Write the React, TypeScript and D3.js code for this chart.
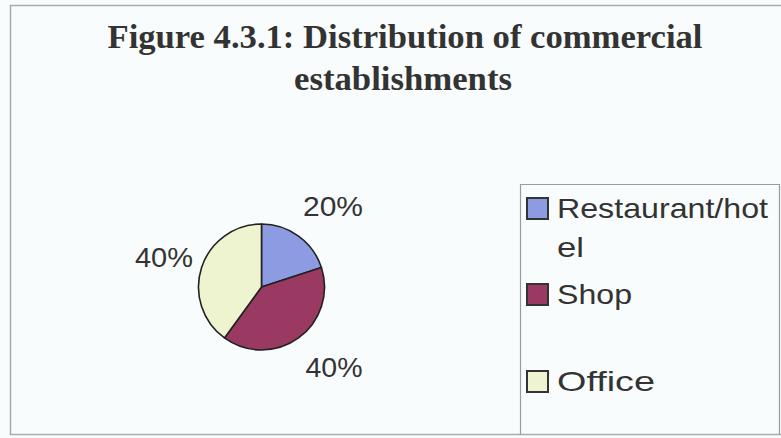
import React from "react";
import * as d3 from "d3";

const categories = ["Restaurant/hotel", "Shop", "Office"];
const values = [20, 40, 40];
const colors = ["#8d9be3", "#9a3a63", "#eef4cf"];
const legendLines = [["Restaurant/hot", "el"], ["Shop"], ["Office"]];
const titleLines = ["Figure 4.3.1: Distribution of commercial", "establishments"];

const W = 781;
const H = 438;

export default function App() {
  const cx = 261.5;
  const cy = 287;
  const r = 63;
  const pie = d3.pie<number>().sort(null).value((d) => d)(values);
  const arc = d3.arc<d3.PieArcDatum<number>>().innerRadius(0).outerRadius(r);
  const total = d3.sum(values);

  // label positions (outside the pie)
  const labelArc = d3.arc<d3.PieArcDatum<number>>().innerRadius(r + 38).outerRadius(r + 38);
  const labelOffsets = [
    { dx: 14, dy: -25, w: 60 },
    { dx: 0, dy: 0, w: 57 },
    { dx: 0, dy: 0, w: 58 },
  ];
  const labelPos = [
    { x: 333, y: 216 },
    { x: 334, y: 377 },
    { x: 164, y: 267 },
  ];

  const legendX = 520;
  const legendTop = 184;
  const markerX = 527;
  const textX = 557;
  const baselines = [[218, 257], [304], [391]];
  const textWidths = [[211, 27], [75], [98]];

  return (
    <div style={{ position: "fixed", left: 0, top: 0, width: W, height: H, background: "#f9fcfc" }}>
      <svg width={W} height={H} style={{ display: "block" }}>
        <rect x={0} y={0} width={W} height={H} fill="#f9fcfc" />
        <path d={`M${W},5.5 H10.5 V434.5 H${W}`} fill="none" stroke="#a9abab" strokeWidth={1.5} />
        {titleLines.map((t, i) => (
          <text
            key={i}
            x={i === 0 ? 405 : 403}
            y={i === 0 ? 48 : 90}
            textAnchor="middle"
            fontFamily="'Liberation Serif', 'Times New Roman', serif"
            fontWeight="bold"
            fontSize={34}
            fill="#333"
            textLength={i === 0 ? 595 : 218}
            lengthAdjust="spacingAndGlyphs"
          >
            {t}
          </text>
        ))}
        <g transform={`translate(${cx},${cy})`}>
          {pie.map((p, i) => (
            <path key={i} d={arc(p) || ""} fill={colors[i]} stroke="#222" strokeWidth={1.6} strokeLinejoin="round" />
          ))}
        </g>
        {pie.map((p, i) => (
          <text
            key={i}
            x={labelPos[i].x}
            y={labelPos[i].y}
            textAnchor="middle"
            fontFamily="'Liberation Sans', Arial, sans-serif"
            fontSize={27}
            fill="#333"
            textLength={labelOffsets[i].w}
            lengthAdjust="spacingAndGlyphs"
          >
            {`${Math.round((p.data / total) * 100)}%`}
          </text>
        ))}
        <path d={`M${legendX + 0.5},434.5 V${legendTop + 0.5} H779.5 V434.5`} fill="none" stroke="#9a9c9c" strokeWidth={1.2} />
        {categories.map((c, i) => (
          <g key={c}>
            <rect
              x={markerX}
              y={baselines[i][0] - 20}
              width={21}
              height={21}
              fill={colors[i]}
              stroke="#333"
              strokeWidth={2}
            />
            {legendLines[i].map((ln, j) => (
              <text
                key={j}
                x={textX}
                y={baselines[i][j]}
                fontFamily="'Liberation Sans', Arial, sans-serif"
                fontSize={28}
                fill="#333"
                textLength={textWidths[i][j]}
                lengthAdjust="spacingAndGlyphs"
              >
                {ln}
              </text>
            ))}
          </g>
        ))}
      </svg>
    </div>
  );
}
